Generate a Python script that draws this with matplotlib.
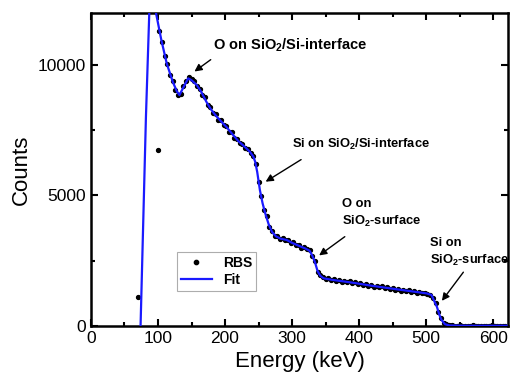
import numpy as np
import matplotlib
matplotlib.use("Agg")
import matplotlib.pyplot as plt
from matplotlib.ticker import MultipleLocator

plt.rcParams['font.family'] = ['Liberation Sans', 'DejaVu Sans']
plt.rcParams['mathtext.fontset'] = 'custom'
plt.rcParams['mathtext.rm'] = 'Liberation Sans'
plt.rcParams['mathtext.bf'] = 'Liberation Sans:bold'

# measured RBS spectrum (counts every 4 keV from 102 keV)
rbs_energy = np.arange(102, 620, 4)
rbs_counts = [
    11300, 10900, 10350, 10050, 9600, 9400, 9050, 8850, 8900, 9200,
    9400, 9550, 9480, 9380, 9200, 9100, 8850, 8760, 8450, 8400,
    8150, 8120, 7900, 7880, 7700, 7660, 7450, 7420, 7220, 7180,
    7000, 6990, 6820, 6780, 6620, 6520, 6200, 5500, 4980, 4450,
    4200, 3800, 3650, 3460, 3440, 3330, 3360, 3280, 3300, 3180,
    3200, 3090, 3110, 3000, 3030, 2960, 2920, 2680, 2480, 2050,
    1950, 1870, 1780, 1820, 1750, 1780, 1720, 1760, 1690, 1720,
    1660, 1700, 1640, 1670, 1600, 1630, 1560, 1600, 1530, 1570,
    1500, 1540, 1470, 1510, 1440, 1480, 1410, 1450, 1380, 1420,
    1350, 1390, 1330, 1360, 1300, 1330, 1270, 1300, 1250, 1270,
    1220, 1190, 1050, 860, 540, 300, 110, 50, 20, 10,
    5, 0, 10, 0, 5, 0, 0, 10, 0, 5,
    0, 0, 5, 0, 10, 0, 0, 5, 0, 0,
]
# two stray low-energy channels
stray_energy = [70, 100]
stray_counts = [1100, 6740]

# fitted spectrum
fit_energy = [74, 78, 82, 87, 91, 97, 105, 113, 122, 128, 132, 138, 145, 150,
              158, 165, 172, 178, 185, 192, 197, 202, 210, 220, 230, 237, 242,
              245, 248, 252, 256, 260, 265, 270, 276, 283, 292, 300, 310, 320,
              326, 330, 334, 338, 342, 347, 360, 380, 397, 420, 446, 470, 490,
              501, 508, 512, 516, 520, 523, 528, 535, 560, 620]
fit_counts = [0, 4000, 8000, 12000, 13500, 12000, 10960, 10065, 9360, 9000,
              8850, 9150, 9490, 9420, 9230, 8950, 8600, 8340, 8100, 7900, 7760,
              7630, 7380, 7080, 6850, 6675, 6500, 6290, 5900, 5205, 4700, 4310,
              3900, 3605, 3430, 3340, 3290, 3180, 3070, 2960, 2880, 2700, 2450,
              2100, 1920, 1820, 1760, 1690, 1625, 1530, 1435, 1350, 1280, 1240,
              1180, 950, 730, 400, 220, 60, 10, 0, 0]

fig = plt.figure(figsize=(5.11, 3.92), dpi=100)
ax = fig.add_axes([0.178, 0.169, 0.816, 0.798])

x_all = list(rbs_energy) + stray_energy
y_all = list(rbs_counts) + stray_counts
ax.plot(x_all, y_all, linestyle='none', marker='o', markersize=2.8,
        color='black', label='RBS', zorder=2)
ax.plot(fit_energy, fit_counts, color='#1a1aff', lw=1.6, label='Fit', zorder=3)

ax.set_xlim(0, 622)
ax.set_ylim(0, 12000)
ax.xaxis.set_major_locator(MultipleLocator(100))
ax.xaxis.set_minor_locator(MultipleLocator(50))
ax.yaxis.set_major_locator(MultipleLocator(5000))
ax.yaxis.set_minor_locator(MultipleLocator(2500))
ax.tick_params(which='both', direction='in', top=True, right=True, width=1.5,
               labelsize=12.5)
ax.tick_params(which='major', length=5)
ax.tick_params(which='minor', length=3)
for s in ax.spines.values():
    s.set_linewidth(1.8)

ax.set_xlabel('Energy (keV)', fontsize=16)
ax.set_ylabel('Counts', fontsize=16)

bold = dict(fontweight='bold', color='black')
ax.text(182, 10770, r'O on SiO$_\mathbf{2}$/Si-interface', fontsize=10.5,
        ha='left', va='center', **bold)
ax.text(300, 6970, r'Si on SiO$_\mathbf{2}$/Si-interface', fontsize=9.3,
        ha='left', va='center', **bold)
ax.text(375, 4300, 'O on\n' + r'SiO$_\mathbf{2}$-surface', fontsize=9.3,
        ha='left', va='center', linespacing=1.3, **bold)
ax.text(506, 2810, 'Si on\n' + r'SiO$_\mathbf{2}$-surface', fontsize=9.3,
        ha='left', va='center', linespacing=1.3, **bold)

arrow = dict(arrowstyle='-|>', color='black', lw=1.0, mutation_scale=11)
ax.annotate('', xy=(151, 9690), xytext=(182, 10270), arrowprops=arrow)
ax.annotate('', xy=(257, 5470), xytext=(317, 6430), arrowprops=arrow)
ax.annotate('', xy=(337, 2635), xytext=(382, 3480), arrowprops=arrow)
ax.annotate('', xy=(521, 870), xytext=(558, 2140), arrowprops=arrow)

leg = ax.legend(loc='lower left', bbox_to_anchor=(0.206, 0.111),
                borderaxespad=0, fancybox=False, edgecolor='#999999',
                prop={'weight': 'bold', 'size': 10}, handlelength=2.2,
                markerscale=1.1, borderpad=0.3, labelspacing=0.2)
leg.get_frame().set_linewidth(0.8)

fig.savefig('out.png', dpi=100)
